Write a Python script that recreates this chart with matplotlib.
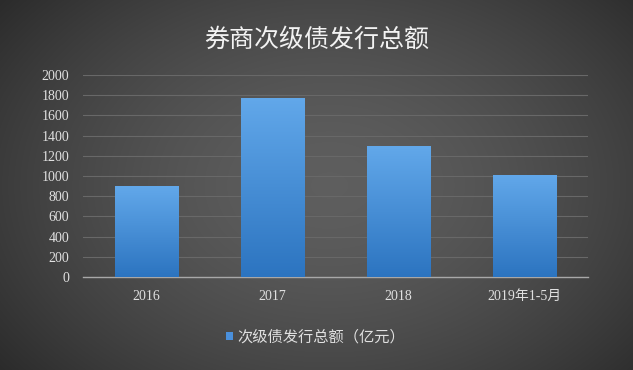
import numpy as np
import matplotlib
matplotlib.use("Agg")
import matplotlib.pyplot as plt

categories = ["2016", "2017", "2018", "2019年1-5月"]
values = [900, 1775, 1297, 1010]
yticks = list(range(0, 2001, 200))
title = "券商次级债发行总额"
legend_label = "次级债发行总额（亿元）"

W, H = 633, 370
fig = plt.figure(figsize=(W / 100, H / 100), dpi=100)

# background radial gradient
bg = fig.add_axes([0, 0, 1, 1])
yy, xx = np.mgrid[0:H, 0:W]
r = np.sqrt(((xx - W * 0.52) / (W * 0.62)) ** 2 + ((yy - H * 0.5) / (H * 0.75)) ** 2)
c = np.clip(0.37 - 0.18 * r ** 1.6, 0.15, 0.4)
img = np.dstack([c, c, c])
bg.imshow(img, aspect="auto", extent=[0, 1, 0, 1])
bg.set_axis_off()

ax = fig.add_axes([83 / W, 1 - 277 / H, (588 - 83) / W, (277 - 75) / H])
ax.set_facecolor("none")
x = np.arange(len(categories))
bars = ax.bar(x, values, width=0.5, color="#4a90dc", zorder=2)

# gradient fill for bars
grad = np.linspace(0, 1, 256).reshape(-1, 1)
top = np.array([0x62, 0xa8, 0xea]) / 255
bot = np.array([0x2c, 0x74, 0xc0]) / 255
gimg = (bot[None, None, :] * (1 - grad[..., None]) + top[None, None, :] * grad[..., None])
for b in bars:
    bx, by = b.get_x(), b.get_y()
    bw, bh = b.get_width(), b.get_height()
    im = ax.imshow(gimg, extent=[bx, bx + bw, 0, bh], origin="lower", aspect="auto", zorder=3)
    im.set_clip_path(b)

ax.set_xlim(-0.5, len(categories) - 0.5)
ax.set_ylim(0, 2000)
ax.set_yticks(yticks)
ax.grid(axis="y", color="#686868", linewidth=0.8, zorder=0)
ax.set_axisbelow(True)
for s in ["top", "right", "left"]:
    ax.spines[s].set_visible(False)
ax.spines["bottom"].set_color("#a8a8a8")
ax.spines["bottom"].set_linewidth(1.0)
ax.tick_params(axis="both", length=0, colors="#d8d8d8")
ax.tick_params(axis="y", pad=10)
ax.tick_params(axis="x", pad=9)
ax.set_xticks(x)
ax.set_xticklabels(categories, family=["Liberation Serif", "Noto Sans CJK SC"], fontsize=10, color="#e0e0e0")
for lab in ax.get_yticklabels():
    lab.set_family(["Liberation Serif"])
    lab.set_fontsize(10)
    lab.set_color("#e0e0e0")

fig.text(0.5, 1 - 40 / H, title, ha="center", va="center", fontsize=18,
         color="#f2f2f2", family=["Noto Sans CJK SC", "DejaVu Sans"])

leg = fig.legend([bars[0]], [legend_label], loc="center", bbox_to_anchor=(316 / W, 1 - 337 / H),
                 frameon=False, handlelength=0.45, handleheight=0.45, handletextpad=0.3,
                 prop={"family": ["Noto Sans CJK SC", "DejaVu Sans"], "size": 11})
for t in leg.get_texts():
    t.set_color("#e0e0e0")

fig.savefig("out.png", dpi=100)
